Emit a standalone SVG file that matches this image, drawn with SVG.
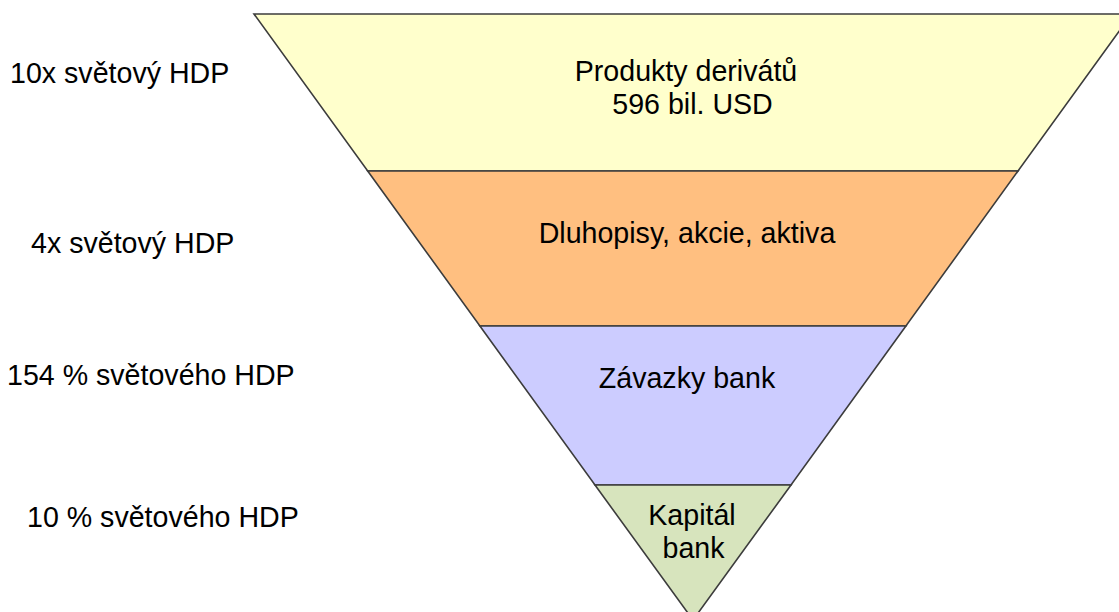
<svg xmlns="http://www.w3.org/2000/svg" width="1119" height="612" viewBox="0 0 1119 612">
  <style>
    .band { stroke: #3c3c3c; stroke-width: 1.6; stroke-linejoin: miter; }
    .t { font-family: "Liberation Sans", Arial, sans-serif; font-size: 28.6px; fill: #000; }
    .c { text-anchor: middle; }
  </style>
  <rect width="1119" height="612" fill="#ffffff"/>
  <g id="band-derivaty">
    <polygon class="band" fill="#FFFFCC" points="254,14 1131.5,14 1018,171 367.7,171"/>
    <text class="t c" x="686" y="81">Produkty derivátů</text>
    <text class="t c" x="692.5" y="114">596 bil. USD</text>
  </g>
  <g id="band-dluhopisy">
    <polygon class="band" fill="#FFBF80" points="367.7,171 1018,171 905.9,326 479.9,326"/>
    <text class="t c" x="687" y="243">Dluhopisy, akcie, aktiva</text>
  </g>
  <g id="band-zavazky">
    <polygon class="band" fill="#CCCCFF" points="479.9,326 905.9,326 791,485 595,485"/>
    <text class="t c" x="687" y="388">Závazky bank</text>
  </g>
  <g id="band-kapital">
    <polygon class="band" fill="#D7E4BD" points="595,485 791,485 693,620"/>
    <text class="t c" x="692" y="525">Kapitál</text>
    <text class="t c" x="693.5" y="558">bank</text>
  </g>
  <g id="labels">
    <text class="t" x="10" y="83">10x světový HDP</text>
    <text class="t" x="31" y="253">4x světový HDP</text>
    <text class="t" x="7" y="385">154 % světového HDP</text>
    <text class="t" x="27" y="527">10 % světového HDP</text>
  </g>
  <g id="connectors"/>
</svg>
